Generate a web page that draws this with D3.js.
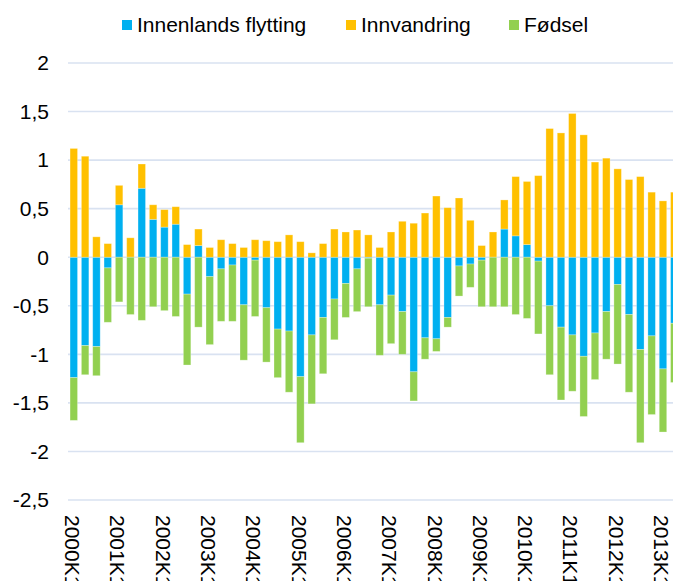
<!DOCTYPE html>
<html>
<head>
<meta charset="utf-8">
<script src="https://cdn.jsdelivr.net/npm/d3@7"></script>
<style>
    body { margin:0; background:#fff; }
    text { font-family: "Liberation Sans", Arial, sans-serif; fill:#000; }
</style>
</head>
<body>
<div id="chart"></div>
<script>
!(function(){
    "use strict"

    // quarters 2000K1 .. 2013K2
    var years = ["2000","2001","2002","2003","2004","2005","2006","2007","2008","2009","2010","2011","2012","2013"]
    var quarters = ["K1","K2","K3","K4"]

    var seriesNames = ["Innenlands flytting", "Innvandring", "Fødsel"]
    var seriesColors = ["#00b0f0", "#ffc000", "#92d050"]

    var innenlands = [-1.24,-0.91,-0.92,-0.11, 0.54,0,0.71,0.39, 0.31,0.34,-0.38,0.12,
        -0.20,-0.12,-0.08,-0.49, -0.03,-0.52,-0.74,-0.76, -1.23,-0.80,-0.62,-0.43,
        -0.27,-0.12,-0.01,-0.49, -0.39,-0.56,-1.18,-0.83, -0.84,-0.62,-0.09,-0.07,
        -0.03,0,0.29,0.22, 0.13,-0.04,-0.50,-0.72, -0.80,-1.02,-0.78,-0.56,
        -0.28,-0.59,-0.95,-0.81, -1.15,-0.68]
    var innvandring = [1.12,1.04,0.21,0.14, 0.20,0.20,0.25,0.15, 0.18,0.18,0.13,0.17,
        0.10,0.18,0.14,0.10, 0.18,0.17,0.16,0.23, 0.16,0.045,0.14,0.29,
        0.26,0.28,0.23,0.10, 0.26,0.37,0.35,0.455, 0.63,0.51,0.61,0.38,
        0.12,0.26,0.30,0.61, 0.65,0.84,1.325,1.28, 1.48,1.26,0.98,1.02,
        0.91,0.80,0.83,0.67, 0.58,0.67]
    var fodsel = [-0.44,-0.30,-0.30,-0.56, -0.46,-0.59,-0.65,-0.51, -0.55,-0.61,-0.73,-0.72,
        -0.70,-0.54,-0.58,-0.57, -0.58,-0.56,-0.50,-0.63, -0.68,-0.71,-0.58,-0.42,
        -0.35,-0.44,-0.50,-0.52, -0.50,-0.44,-0.30,-0.22, -0.13,-0.10,-0.31,-0.24,
        -0.48,-0.51,-0.51,-0.59, -0.63,-0.75,-0.71,-0.75, -0.58,-0.62,-0.48,-0.49,
        -0.82,-0.80,-0.96,-0.81, -0.65,-0.61]

    var yTicks = [2, 1.5, 1, 0.5, 0, -0.5, -1, -1.5, -2, -2.5]

    var width = 673, height = 581

    var categories = []
    years.forEach(function(y) {
        quarters.forEach(function(q) { categories.push(y + q) })
    })
    categories = categories.slice(0, innenlands.length)

    var data = categories.map(function(c, i) {
        var row = { cat: c }
        row[seriesNames[0]] = innenlands[i]
        row[seriesNames[1]] = innvandring[i]
        row[seriesNames[2]] = fodsel[i]
        return row
    })

    var svg = d3.select("#chart").append("svg")
        .attr("width", width).attr("height", height)

    var x = d3.scaleBand()
        .domain(categories)
        .range([66.2, 681.9])
        .padding(0.34)

    var y = d3.scaleLinear()
        .domain([-2.5, 2])
        .range([500, 63])

    // grid
    svg.append("g").selectAll("line")
        .data(yTicks)
        .enter().append("line")
        .attr("x1", 68).attr("x2", width)
        .attr("y1", function(d) { return y(d) })
        .attr("y2", function(d) { return y(d) })
        .attr("stroke", "#d9e2f1")
        .attr("stroke-width", 1.6)

    svg.append("g").selectAll("text")
        .data(yTicks)
        .enter().append("text")
        .attr("x", 49)
        .attr("y", function(d) { return y(d) })
        .attr("dy", "0.35em")
        .attr("text-anchor", "end")
        .style("font-size", "21px")
        .text(function(d) { return String(d).replace(".", ",") })

    var stack = d3.stack()
        .keys(seriesNames)
        .offset(d3.stackOffsetDiverging)

    var layers = svg.append("g").selectAll("g")
        .data(stack(data))
        .enter().append("g")
        .attr("fill", function(d, i) { return seriesColors[i] })

    layers.selectAll("rect")
        .data(function(d) { return d })
        .enter().append("rect")
        .attr("x", function(d) { return x(d.data.cat) })
        .attr("width", x.bandwidth())
        .attr("y", function(d) { return y(Math.max(d[0], d[1])) })
        .attr("height", function(d) { return Math.abs(y(d[0]) - y(d[1])) })
        .attr("stroke", "#fff")
        .attr("stroke-opacity", 0.35)
        .attr("stroke-width", 0.8)

    // x labels, one per year
    svg.append("g").selectAll("text")
        .data(categories.filter(function(c) { return c.slice(4) == "K1" }))
        .enter().append("text")
        .attr("transform", function(d) {
            return "translate(" + [x(d) + x.bandwidth()/2 - 1.5, 515] + ") rotate(90)"
        })
        .attr("dy", "0.35em")
        .style("font-size", "21px")
        .text(function(d) { return d })

    // legend
    var legendX = [137, 361, 524]
    var legend = svg.append("g").selectAll("g")
        .data(seriesNames)
        .enter().append("g")
        .attr("transform", function(d, i) { return "translate(" + [legendX[i], 0] + ")" })

    legend.append("rect")
        .attr("x", -15).attr("y", 20)
        .attr("width", 10).attr("height", 10)
        .attr("fill", function(d, i) { return seriesColors[i] })

    legend.append("text")
        .attr("y", 32)
        .style("font-size", "21px")
        .text(function(d) { return d })
}());
</script>
</body>
</html>
